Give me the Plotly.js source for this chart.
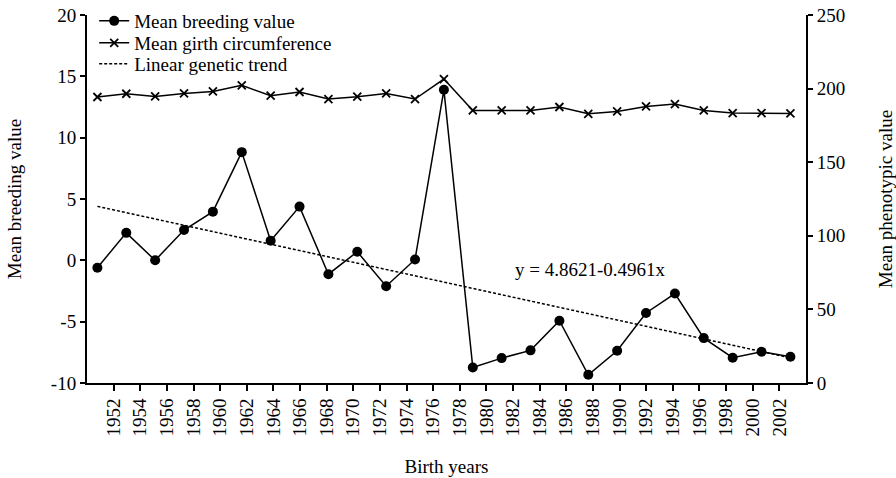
<!DOCTYPE html>
<html>
<head>
<meta charset="utf-8">
<script src="https://cdn.plot.ly/plotly-3.0.1.min.js"></script>
<style>html,body{margin:0;padding:0;background:#fff;}#chart{width:896px;height:478px;}</style>
</head>
<body>
<div id="chart"></div>
<script>
// Observation index (trend equation uses this x)
var obsIndex = [1,2,3,4,5,6,7,8,9,10,11,12,13,14,15,16,17,18,19,20,21,22,23,24,25];
// Mean breeding value (left axis)
var breedingValue = [-0.6,2.24,0.0,2.47,3.97,8.82,1.6,4.38,-1.13,0.70,-2.11,0.07,13.9,-8.73,-7.97,-7.34,-4.92,-9.33,-7.37,-4.29,-2.71,-6.34,-7.94,-7.45,-7.86];
// Mean girth circumference (right axis, mean phenotypic value)
var girthValue = [194.3,196.5,194.7,196.7,198.1,202.2,195.2,197.7,192.9,194.5,196.7,192.9,206.5,185.2,185.2,185.2,187.5,182.9,184.5,187.9,189.5,185.2,183.4,183.4,183.1];
// Linear genetic trend endpoints
var trendX = [1, 25];
var trendY = [4.4, -7.95];
// Tick labels on birth-year axis
var yearTicks = [1952,1954,1956,1958,1960,1962,1964,1966,1968,1970,1972,1974,1976,1978,1980,1982,1984,1986,1988,1990,1992,1994,1996,1998,2000,2002];
var leftTicks = [-10,-5,0,5,10,15,20];
var leftTickText = ['-10','-5','0','5','10','15','20'];
var rightTicks = [0,50,100,150,200,250];
var trendLabel = "y = 4.8621-0.4961x";

var serif = "Liberation Serif, Times New Roman, serif";
var FS = 19;
var traces = [
  {x: yearTicks, y: yearTicks.map(function(){return null;}), xaxis:'x', yaxis:'y', mode:'lines', showlegend:false, hoverinfo:'skip'},
  {x: obsIndex, y: breedingValue, xaxis:'x2', yaxis:'y', mode:'lines+markers', name:'Mean breeding value', legend:'legend',
   line:{color:'#000', width:1.5}, marker:{symbol:'circle', size:10, color:'#000'}},
  {x: obsIndex, y: girthValue, xaxis:'x2', yaxis:'y2', mode:'lines+markers', name:'Mean girth circumference', legend:'legend2',
   line:{color:'#000', width:1.5}, marker:{symbol:'x-thin-open', size:8, color:'#000', line:{color:'#000', width:1.8}}},
  {x: trendX, y: trendY, xaxis:'x2', yaxis:'y', mode:'lines', name:'Linear genetic trend', legend:'legend3',
   line:{color:'#000', width:1.5, dash:'3px,2px'}}
];
function leg(yv){
  return {x: 0.01, y: yv, xanchor:'left', yanchor:'middle', bgcolor:'rgba(0,0,0,0)', font:{family: serif, size: FS}, itemwidth: 30};
}
var layout = {
  width: 896, height: 478,
  margin: {l: 87, r: 90, t: 15, b: 95, autoexpand: false},
  paper_bgcolor: '#fff', plot_bgcolor: '#fff',
  font: {family: serif, size: FS, color: '#000'},
  showlegend: true,
  legend: leg(0.9837),
  legend2: leg(0.9239),
  legend3: leg(0.8668),
  xaxis: {range:[1950, 2004], tickvals: yearTicks, ticktext: yearTicks.map(String), tickangle: -90,
    showline:true, linecolor:'#000', linewidth:2, ticks:'outside', ticklen:6, tickwidth:2, tickcolor:'#000',
    showgrid:false, zeroline:false, tickfont:{family: serif, size: FS},
    title:{text:'Birth years', font:{family: serif, size: FS}, standoff: 24}},
  xaxis2: {range:[0.64, 25.54], overlaying:'x', visible:false, showgrid:false, zeroline:false},
  yaxis: {range:[-10, 20], tickvals: leftTicks, ticktext: leftTickText, showline:true, linecolor:'#000', linewidth:2, ticks:'outside', ticklen:5, tickwidth:2, tickcolor:'#000',
    showgrid:false, zeroline:false, tickfont:{family: serif, size: FS},
    title:{text:'Mean breeding value', font:{family: serif, size: FS}, standoff: 24}},
  yaxis2: {range:[0, 250], tickvals: rightTicks, ticktext: rightTicks.map(String), overlaying:'y', side:'right', anchor:'x', showline:true, linecolor:'#000', linewidth:2,
    ticks:'outside', ticklen:5, tickwidth:2, tickcolor:'#000', showgrid:false, zeroline:false, tickfont:{family: serif, size: FS},
    title:{text:'Mean phenotypic value', font:{family: serif, size: FS}, standoff: 38}},
  annotations: [{xref:'x2', yref:'y', x: 18.06, y: -0.72, text: trendLabel, showarrow:false, font:{family: serif, size: FS}}]
};
Plotly.newPlot('chart', traces, layout, {displayModeBar:false, staticPlot:true});
</script>
</body>
</html>
